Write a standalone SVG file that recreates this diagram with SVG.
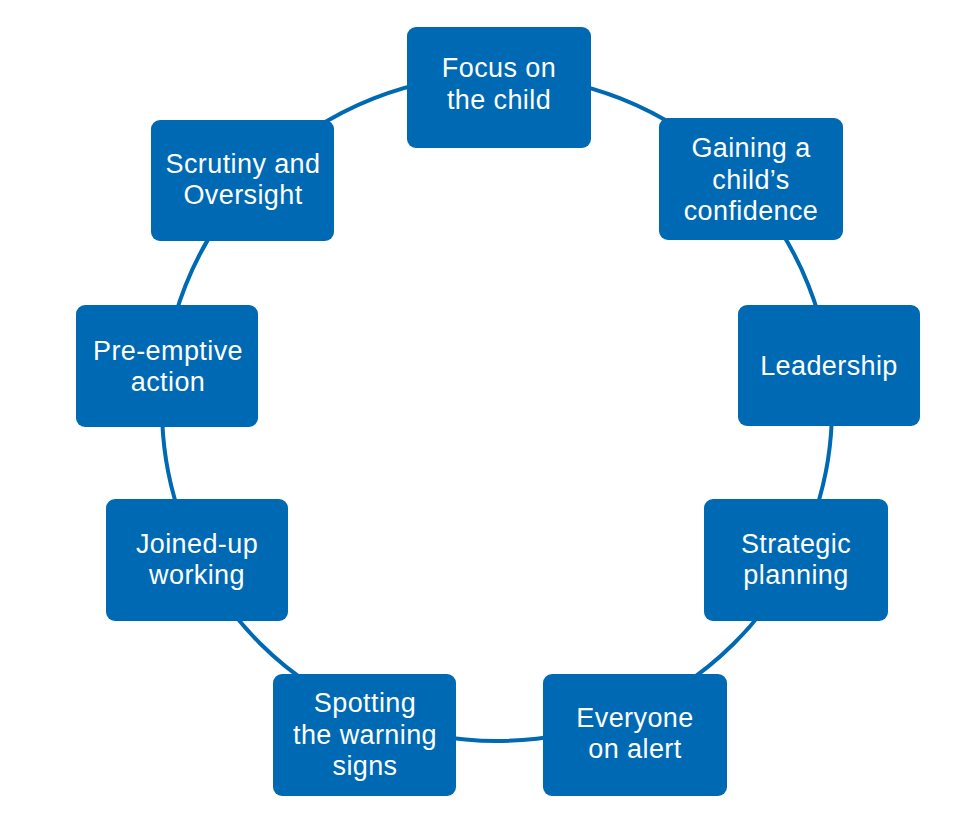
<svg xmlns="http://www.w3.org/2000/svg" width="972" height="831" viewBox="0 0 972 831">
<style>
.box{fill:#0069B3;}
.lbl{fill:#ffffff;font-family:"Liberation Sans",Arial,sans-serif;font-size:27px;letter-spacing:0.4px;text-anchor:middle;}
.ring{fill:none;stroke:#0069B3;stroke-width:4;}
</style>
<rect width="972" height="831" fill="#ffffff"/>
<g id="connectors">
<ellipse class="ring" cx="497" cy="408" rx="335" ry="333"/>
</g>
<g id="focus">
<rect class="box" x="407" y="27" width="184" height="121" rx="9"/>
<text class="lbl" x="499" y="77">Focus on</text>
<text class="lbl" x="499" y="109">the child</text>
</g>
<g id="gaining">
<rect class="box" x="659" y="118" width="184" height="122" rx="9"/>
<text class="lbl" x="751" y="157">Gaining a</text>
<text class="lbl" x="751" y="189">child’s</text>
<text class="lbl" x="751" y="220">confidence</text>
</g>
<g id="leadership">
<rect class="box" x="738" y="305" width="182" height="121" rx="9"/>
<text class="lbl" x="829" y="375">Leadership</text>
</g>
<g id="strategic">
<rect class="box" x="704" y="499" width="184" height="122" rx="9"/>
<text class="lbl" x="796" y="553">Strategic</text>
<text class="lbl" x="796" y="584">planning</text>
</g>
<g id="everyone">
<rect class="box" x="543" y="674" width="184" height="122" rx="9"/>
<text class="lbl" x="635" y="727">Everyone</text>
<text class="lbl" x="635" y="758">on alert</text>
</g>
<g id="spotting">
<rect class="box" x="273" y="674" width="183" height="122" rx="9"/>
<text class="lbl" x="365" y="712">Spotting</text>
<text class="lbl" x="365" y="744">the warning</text>
<text class="lbl" x="365" y="775">signs</text>
</g>
<g id="joined">
<rect class="box" x="106" y="499" width="182" height="122" rx="9"/>
<text class="lbl" x="197" y="553">Joined-up</text>
<text class="lbl" x="197" y="584">working</text>
</g>
<g id="preemptive">
<rect class="box" x="76" y="305" width="182" height="122" rx="9"/>
<text class="lbl" x="168" y="360">Pre-emptive</text>
<text class="lbl" x="168" y="391">action</text>
</g>
<g id="scrutiny">
<rect class="box" x="151" y="120" width="183" height="121" rx="9"/>
<text class="lbl" x="243" y="173">Scrutiny and</text>
<text class="lbl" x="243" y="204">Oversight</text>
</g>
</svg>
